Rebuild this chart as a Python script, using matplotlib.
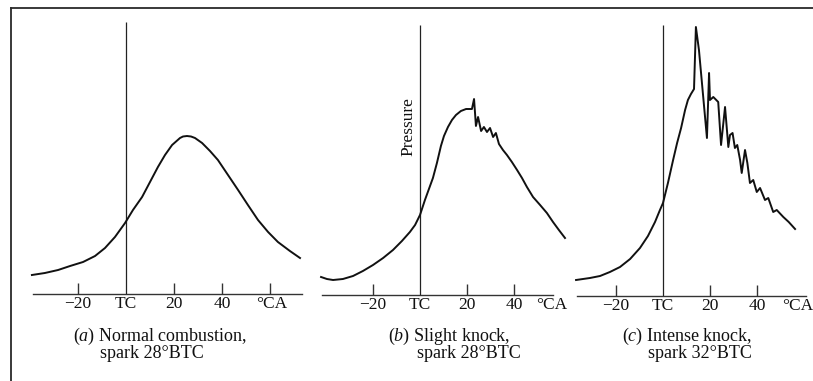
import matplotlib
matplotlib.use("Agg")
import matplotlib.pyplot as plt
from matplotlib.lines import Line2D

plt.rcParams['font.family'] = ['Liberation Serif', 'DejaVu Serif']
plt.rcParams['mathtext.fontset'] = 'custom'
plt.rcParams['mathtext.rm'] = 'Liberation Serif'
plt.rcParams['mathtext.it'] = 'Liberation Serif:italic'

W, H = 813, 381

# Cylinder pressure traces: crank angle (deg after TC) and pressure (arbitrary units)
normal_ca = [-39.2, -33.8, -28.3, -23.3, -17.9, -12.9, -8.75, -4.6, -0.4, 2.9, 6.7,
             10.0, 13.3, 16.25, 19.2, 22.5, 23.75, 25.4, 27.1, 28.75, 31.7, 35.0,
             38.3, 42.5, 46.7, 50.8, 55.0, 59.2, 63.3, 68.3, 72.5]
normal_p = [19, 21, 24, 28, 32, 38, 46, 57, 71, 84, 97,
            112, 127, 139, 149, 156, 157.5, 158, 157.5, 156, 151, 143,
            134, 119, 104, 89, 74, 62, 52, 43, 36]

slight_ca = [-42.1, -39.6, -37.0, -32.8, -28.5, -24.3, -20.0, -15.7, -11.5, -7.7,
             -4.3, -2.1, 0.0, 2.1, 3.8, 5.5, 7.2, 8.9, 10.2, 11.9, 13.6, 15.3,
             17.4, 19.6, 22.1, 23.0, 23.8, 24.7, 26.0, 27.2, 28.5, 29.8, 31.1,
             32.3, 33.6, 35.3, 37.0, 39.1, 41.3, 43.4, 45.5, 48.1, 51.1, 54.0,
             56.6, 59.1, 61.7]
slight_p = [18, 16, 15, 16, 19, 24, 30, 37, 45, 54,
            63, 70, 80, 95, 106, 117, 132, 149, 159, 168, 175, 180,
            184, 186, 186, 196, 169, 178, 164, 168, 163, 167, 158,
            162, 151, 145, 140, 133, 125, 117, 108, 98, 90, 82,
            73, 65, 57]

intense_ca = [-37.0, -31.1, -26.8, -22.6, -18.3, -14.0, -9.8, -6.4, -3.4, -1.3, 0.0,
              2.1, 4.3, 6.0, 7.7, 9.4, 10.6, 11.9, 13.2, 14.0, 15.3, 18.7, 19.6,
              20.0, 21.4, 23.5, 24.7, 26.4, 27.8, 28.5, 29.6, 30.6, 31.6, 32.8,
              33.5, 34.9, 35.9, 37.0, 38.4, 39.9, 41.3, 43.4, 44.8, 46.9, 48.4,
              51.2, 53.5, 56.2]
intense_p = [16, 18, 20, 24, 29, 37, 48, 60, 74, 86, 93,
             113, 136, 153, 168, 186, 196, 202, 207, 269, 246, 158, 223,
             196, 199, 194, 151, 189, 149, 161, 163, 148, 151, 136,
             123, 146, 133, 113, 116, 104, 108, 96, 98, 84, 86,
             79, 74, 67]

tick_values = [-20, 0, 20, 40]
tick_labels = ['\u221220', 'TC', '20', '40']
unit_label = '\u00b0CA'

panels = [
    dict(ca=normal_ca, p=normal_p, tc_px=126, scale=2.4, axis_y=294,
         axis_span=(-38.8, 73.3), tc_top=272, tick_marks=[-20, 20, 40, 60],
         unit_x=60.5, tag='a', line1='Normal combustion,', line2='spark 28\u00b0BTC',
         cap_x=(73, 100)),
    dict(ca=slight_ca, p=slight_p, tc_px=420, scale=2.35, axis_y=295,
         axis_span=(-41.7, 56.6), tc_top=270, tick_marks=[-20, 20, 40],
         unit_x=56.0, tag='b', line1='Slight knock,', line2='spark 28\u00b0BTC',
         cap_x=(388, 417)),
    dict(ca=intense_ca, p=intense_p, tc_px=663, scale=2.35, axis_y=296,
         axis_span=(-36.6, 61.0), tc_top=271, tick_marks=[-20, 20, 40],
         unit_x=57.4, tag='c', line1='Intense knock,', line2='spark 32\u00b0BTC',
         cap_x=(622, 648)),
]

fig = plt.figure(figsize=(W / 100, H / 100), dpi=100)
fig.patch.set_facecolor('white')

# frame around the figure
fig.add_artist(Line2D([11 / W, 11 / W], [0, 1 - 8 / H], color='#2a2a2a', lw=1.3))
fig.add_artist(Line2D([11 / W, 1], [1 - 8 / H, 1 - 8 / H], color='#2a2a2a', lw=1.3))

XLIM = (-45, 80)
YTOP = 290
TXT = '#111111'
axes = []
for pan in panels:
    s = pan['scale']
    left_px = pan['tc_px'] + XLIM[0] * s
    width_px = (XLIM[1] - XLIM[0]) * s
    ax = fig.add_axes([left_px / W, (H - pan['axis_y']) / H, width_px / W, YTOP / H])
    ax.set_xlim(*XLIM)
    ax.set_ylim(0, YTOP)
    ax.axis('off')
    axes.append(ax)

    # crank-angle axis, ticks and TC marker
    ax.plot(pan['axis_span'], [0, 0], color='#333333', lw=1.0, clip_on=False)
    ax.vlines(pan['tick_marks'], 0, 11, color='#333333', lw=1.0)
    ax.vlines(0, 0, pan['tc_top'], color='#222222', lw=0.9)
    for v, lab in zip(tick_values, tick_labels):
        ax.text(v, -10, lab, ha='center', va='center', fontsize=12.5, color=TXT)
    ax.text(pan['unit_x'], -10, unit_label, ha='center', va='center',
            fontsize=12.5, color=TXT)

    # pressure trace
    ax.plot(pan['ca'], pan['p'], color='#111111', lw=1.4, solid_joinstyle='round',
            clip_on=False)

    # caption
    x1, x2 = pan['cap_x']
    fig.text(x1 / W, 1 - 336 / H, '(' + r'$\mathit{' + pan['tag'] + '}$' + ') ' + pan['line1'],
             ha='left', va='center', fontsize=13, color=TXT)
    fig.text(x2 / W, 1 - 354 / H, pan['line2'], ha='left', va='center',
             fontsize=13, color=TXT)

axes[1].text(-5, 168, 'Pressure', rotation=90, ha='center', va='center',
             fontsize=12.5, color=TXT)

fig.savefig('out.png', dpi=100, facecolor='white')
